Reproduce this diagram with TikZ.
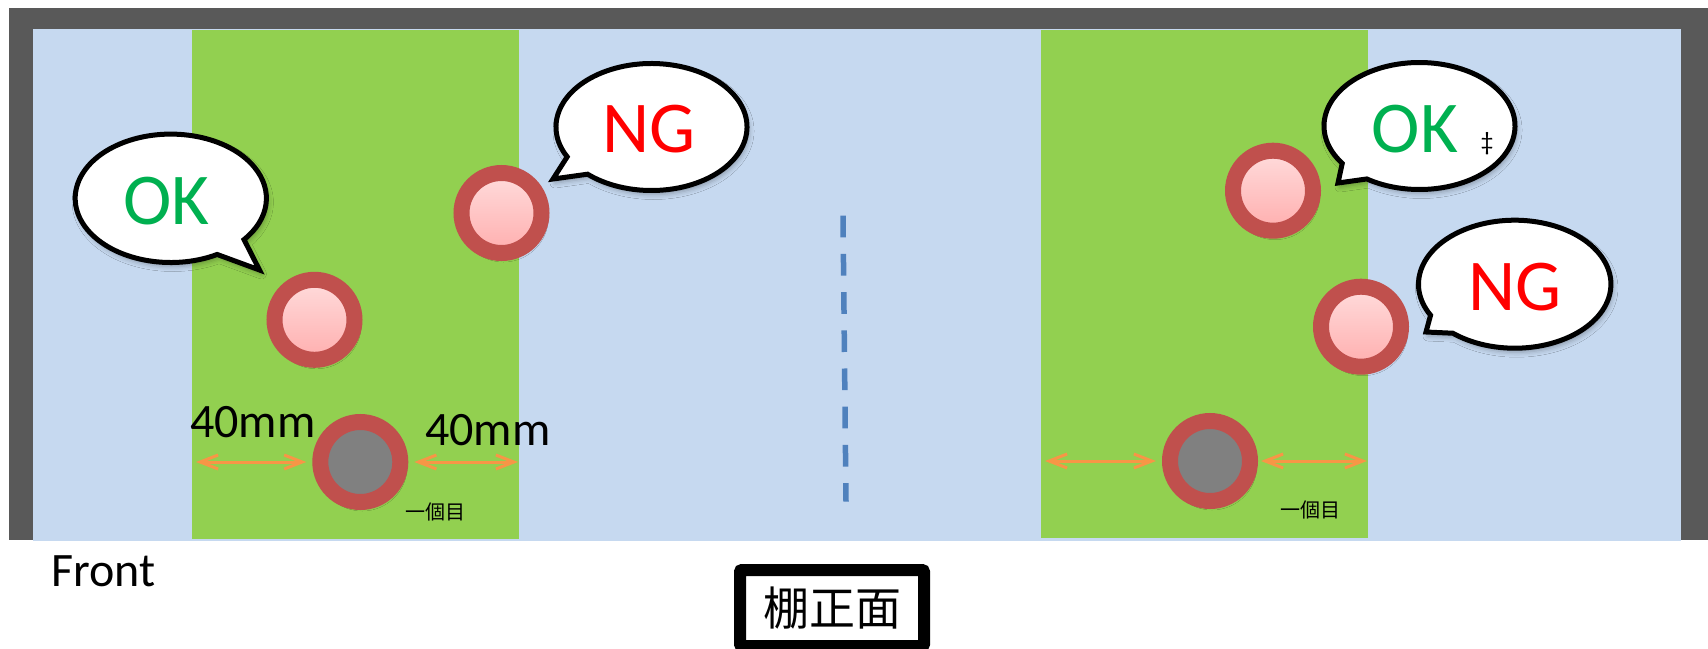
\documentclass[tikz,border=0pt]{standalone}
\usepackage{fontspec}
\setmainfont{Carlito}
\newfontfamily\jpfont{Noto Sans CJK JP}
\usetikzlibrary{arrows.meta,shadows.blur}
\definecolor{framegray}{HTML}{595959}
\definecolor{shelf}{HTML}{C6D9F0}
\definecolor{zone}{HTML}{92D050}
\definecolor{ring}{HTML}{C0504D}
\definecolor{pinktop}{HTML}{FFDCDC}
\definecolor{pinkbot}{HTML}{FFAEAE}
\definecolor{core}{HTML}{808080}
\definecolor{dimcol}{HTML}{F79646}
\definecolor{axiscol}{HTML}{4F81BD}
\definecolor{okgreen}{HTML}{00B050}
\definecolor{ngred}{HTML}{FF0000}
\tikzset{
  ringnode/.style={circle, minimum size=80pt, inner sep=0pt, draw=ring, line width=16pt,
    blur shadow={shadow xshift=2pt, shadow yshift=-4pt, shadow blur radius=5pt, shadow opacity=35}},
  pinkdot/.style={ringnode, top color=pinktop, bottom color=pinkbot},
  graydot/.style={ringnode, fill=core},
  bubble/.style={draw=black, fill=white, line width=5pt, line join=miter,
    blur shadow={shadow xshift=2pt, shadow yshift=-4pt, shadow blur radius=5pt, shadow opacity=30}},
  bigtxt/.style={font=\fontsize{73}{80}\selectfont, inner sep=0pt, anchor=base},
  midtxt/.style={font=\fontsize{48}{54}\selectfont, inner sep=0pt, anchor=base west},
  smalljp/.style={font=\jpfont\fontsize{20}{24}\selectfont, inner sep=0pt},
  dimarrow/.style={draw=dimcol, line width=3pt,
    {Straight Barb[length=18pt,width=14pt]}-{Straight Barb[length=18pt,width=14pt]}},
  axisline/.style={draw=axiscol, line width=5.5pt, dash pattern=on 21.7pt off 16.5pt},
  titlebox/.style={draw=black, line width=12pt, rounded corners=2pt, fill=white,
    minimum width=184pt, minimum height=76pt, inner sep=0pt,
    font=\jpfont\fontsize{46}{50}\selectfont}
}
\newcommand\mybubble[8]{%
  \draw[bubble] ([shift={(#1,#2)}]#5:#3 and #4) -- (#7,#8) --
    ([shift={(#1,#2)}]#6:#3 and #4)
    arc[start angle=#6, end angle={#5+360}, x radius=#3, y radius=#4] -- cycle;}
\begin{document}
\begin{tikzpicture}[x=1pt, y=-1pt]
\useasboundingbox (0,0) rectangle (1708,648);
% frame and shelf
\fill[framegray] (9,8) rectangle (1708,540);
\fill[shelf] (33,29) rectangle (1681,541);
\fill[zone] (192,30) rectangle (519,539);
\fill[zone] (1041,30) rectangle (1368,538);
% centre line
\coordinate (d1) at (843,215.7);
\coordinate (d2) at (846,501.7);
\draw[axisline] (d1) -- (d2);
% circles
\node[pinkdot] (c1) at (314.5,319.8) {};
\node[pinkdot] (c2) at (501.5,213) {};
\node[pinkdot] (c3) at (1273,190.7) {};
\node[pinkdot] (c4) at (1361,326.7) {};
\node[graydot] (b1) at (360.3,462) {};
\node[graydot] (b2) at (1210,461) {};
% dimension arrows
\coordinate (l1) at (196,462);
\coordinate (r1) at (518,462);
\coordinate (l2) at (1045,461);
\coordinate (r2) at (1367,461);
\draw[dimarrow, shorten >=6pt] (l1) -- (b1);
\draw[dimarrow, shorten <=6pt] (b1) -- (r1);
\draw[dimarrow, shorten >=6pt] (l2) -- (b2);
\draw[dimarrow, shorten <=3pt] (b2) -- (r2);
\node[midtxt] (m1) at (190,437) {40mm};
\node[midtxt] (m2) at (425,445) {40mm};
\node[smalljp] (n1) at (435,511.5) {一個目};
\node[smalljp] (n2) at (1310.5,510.4) {一個目};
% bubbles
\mybubble{170.8}{198.3}{95.6}{64.2}{40}{61}{259.5}{270}
\mybubble{651.5}{127}{95.5}{63.5}{132}{152}{553}{179}
\mybubble{1419.5}{126}{95.5}{63.5}{123.5}{144}{1338}{183}
\mybubble{1514.7}{284.2}{96.2}{64}{130}{151}{1426}{332}
\node[bigtxt, text=okgreen] (ok1) at (166.5,224) {OK};
\node[bigtxt, text=ngred] (ng1) at (648.7,152.5) {NG};
\node[bigtxt, text=okgreen] (ok2) at (1415,152.3) {OK};
\node[font=\fontsize{26}{28}\selectfont, inner sep=0pt] (dd) at (1487,144) {‡};
\node[bigtxt, text=ngred] (ng2) at (1514.7,310) {NG};
% labels below
\node[midtxt] (front) at (51,586.7) {Front};
\node[titlebox] (title) at (832,608) {棚正面};
\end{tikzpicture}
\end{document}
